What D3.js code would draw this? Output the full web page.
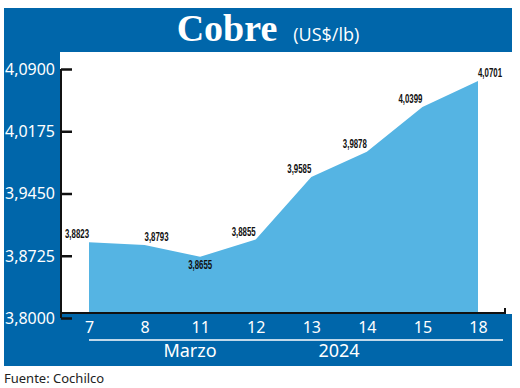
<!DOCTYPE html>
<html>
<head>
<meta charset="utf-8">
<script src="https://cdn.jsdelivr.net/npm/d3@7/dist/d3.min.js"></script>
<style>
  html, body { margin: 0; padding: 0; background: #fff; }
  svg { display: block; }
</style>
</head>
<body>
<div id="chart"></div>
<script>
// Cobre precio diario (US$/lb), marzo 2024
const days = ["7", "8", "11", "12", "13", "14", "15", "18"];
const prices = [3.8823, 3.8793, 3.8655, 3.8855, 3.9585, 3.9878, 4.0399, 4.0701];
const yTicks = [3.8, 3.8725, 3.945, 4.0175, 4.09];
const monthLabel = "Marzo";
const yearLabel = "2024";
const source = "Fuente: Cochilco";

const width = 520, height = 388;
const darkBlue = "#0066aa",
      areaBlue = "#55b4e3";

const fmt = v => d3.format(".4f")(v).replace(".", ",");

const svg = d3.select("#chart").append("svg")
  .attr("width", width)
  .attr("height", height);

// Frame: blue band around, white plot panel inside
svg.append("rect")
  .attr("x", 4).attr("y", 8)
  .attr("width", 508).attr("height", 358)
  .attr("fill", darkBlue);
svg.append("rect")
  .attr("x", 60).attr("y", 52)
  .attr("width", 452).attr("height", 262)
  .attr("fill", "#fff");

// Title
const title = svg.append("text")
  .attr("x", 268).attr("y", 41)
  .attr("text-anchor", "middle")
  .attr("fill", "#fff");
title.append("tspan")
  .attr("font-family", "'Liberation Serif', 'DejaVu Serif', serif")
  .attr("font-weight", "bold")
  .attr("font-size", 38)
  .text("Cobre");
title.append("tspan")
  .attr("dx", 16)
  .attr("font-family", "'Open Sans', 'Noto Sans', sans-serif")
  .attr("font-size", 18)
  .text("(US$/lb)");

// Scales
const x = d3.scalePoint()
  .domain(days)
  .range([89, 478]);

const baseY = 313;
const y = d3.scaleLinear()
  .domain([3.8, 4.09])
  .range([baseY, baseY - 249]);

// Area
const area = d3.area()
  .x((d, i) => x(days[i]))
  .y0(baseY)
  .y1(d => y(d));

svg.append("path")
  .datum(prices)
  .attr("d", area)
  .attr("fill", areaBlue);

// Y axis (ticks sit 5px lower than the area's baseline in the original)
const yAxis = svg.append("g")
  .attr("transform", "translate(61,5)")
  .call(d3.axisLeft(y).tickValues(yTicks).tickFormat(fmt).tickSize(-11).tickPadding(6));
yAxis.select(".domain").remove();
yAxis.selectAll(".tick line")
  .attr("stroke", "#111")
  .attr("stroke-width", 2.5);
yAxis.selectAll(".tick text")
  .attr("fill", "#fff")
  .attr("font-family", "'Noto Sans', 'Open Sans', sans-serif")
  .attr("font-size", 17)
  .attr("textLength", 50)
  .attr("lengthAdjust", "spacingAndGlyphs");

// Black axis lines
svg.append("line")
  .attr("x1", 61).attr("x2", 61)
  .attr("y1", y(4.09) + 5).attr("y2", y(3.8) + 5)
  .attr("stroke", "#111").attr("stroke-width", 2);
svg.append("path")
  .attr("d", `M61,${baseY}H505V${baseY - 5}`)
  .attr("fill", "none")
  .attr("stroke", "#111").attr("stroke-width", 2);

// X axis labels
const xAxis = svg.append("g")
  .attr("transform", `translate(0,${baseY})`)
  .call(d3.axisBottom(x).tickSize(0).tickPadding(9));
xAxis.select(".domain").remove();
xAxis.selectAll(".tick text")
  .attr("fill", "#fff")
  .attr("font-family", "'Noto Sans', 'Open Sans', sans-serif")
  .attr("font-size", 16);

svg.append("line")
  .attr("x1", x(days[0])).attr("x2", 503)
  .attr("y1", 340).attr("y2", 340)
  .attr("stroke", "#fff").attr("stroke-width", 1.5);

svg.append("text")
  .attr("x", 190).attr("y", 357)
  .attr("text-anchor", "middle")
  .attr("fill", "#fff")
  .attr("font-family", "'Noto Sans', 'Open Sans', sans-serif")
  .attr("font-size", 18)
  .text(monthLabel);
svg.append("text")
  .attr("x", 339).attr("y", 357)
  .attr("text-anchor", "middle")
  .attr("fill", "#fff")
  .attr("font-family", "'Noto Sans', 'Open Sans', sans-serif")
  .attr("font-size", 18)
  .text(yearLabel);

// Value labels (condensed bold numbers)
const placement = ["end", "start", "below", "end", "end", "end", "end", "start"];
svg.append("g")
  .selectAll("text")
  .data(prices)
  .join("text")
  .attr("x", (d, i) => x(days[i]))
  .attr("y", (d, i) => placement[i] === "below" ? y(d) + 12 : y(d) - 4)
  .attr("text-anchor", (d, i) => placement[i] === "below" ? "middle" : placement[i])
  .attr("fill", "#111")
  .attr("font-family", "'Liberation Sans', Arial, sans-serif")
  .attr("font-weight", "bold")
  .attr("font-size", 12)
  .attr("textLength", 24)
  .attr("lengthAdjust", "spacingAndGlyphs")
  .text(fmt);

// Source
svg.append("text")
  .attr("x", 4).attr("y", 383)
  .attr("fill", "#222")
  .attr("font-family", "'Noto Sans', 'Open Sans', sans-serif")
  .attr("font-size", 13)
  .text(source);
</script>
</body>
</html>
